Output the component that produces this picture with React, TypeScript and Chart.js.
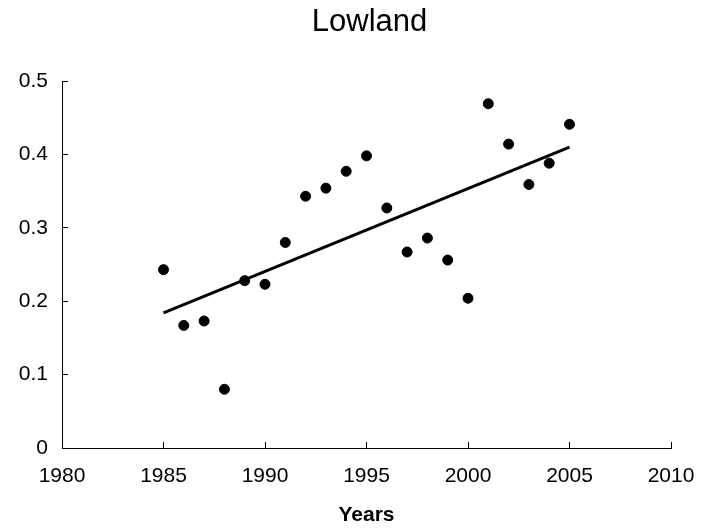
import React, { useEffect, useRef } from "react";
import { Chart, registerables } from "chart.js";

Chart.register(...registerables);

const chartTitle = "Lowland";
const xAxisTitle = "Years";
const years = [1985, 1986, 1987, 1988, 1989, 1990, 1991, 1992, 1993, 1994, 1995, 1996, 1997, 1998, 1999, 2000, 2001, 2002, 2003, 2004, 2005];
const values = [0.243, 0.167, 0.173, 0.08, 0.228, 0.223, 0.28, 0.343, 0.354, 0.377, 0.398, 0.327, 0.267, 0.286, 0.256, 0.204, 0.469, 0.414, 0.359, 0.388, 0.441];
const trendYears = [1985, 2005];
const trendValues = [0.184, 0.41];
const xTickLabels = ["1980", "1985", "1990", "1995", "2000", "2005", "2010"];
const yTickLabels = ["0", "0.1", "0.2", "0.3", "0.4", "0.5"];

const FONT = "'Liberation Sans', Arial, Helvetica, sans-serif";

export default function App() {
  const ref = useRef<HTMLCanvasElement | null>(null);

  useEffect(() => {
    if (!ref.current) return;
    const chart = new Chart(ref.current, {
      type: "scatter",
      data: {
        datasets: [
          {
            label: "points",
            data: years.map((y, i) => ({ x: y, y: values[i] })),
            backgroundColor: "#000",
            borderColor: "#000",
            pointRadius: 5,
            pointHoverRadius: 5,
            showLine: false,
          },
          {
            label: "trend",
            data: trendYears.map((y, i) => ({ x: y, y: trendValues[i] })),
            borderColor: "#000",
            backgroundColor: "#000",
            borderWidth: 3,
            pointRadius: 0,
            showLine: true,
          },
        ],
      },
      options: {
        responsive: false,
        animation: false,
        devicePixelRatio: 1,
        layout: { padding: { left: 0, right: -32, top: 0, bottom: 0 } },
        plugins: {
          legend: { display: false },
          tooltip: { enabled: false },
          title: {
            display: true,
            text: chartTitle,
            color: "#000",
            font: { family: FONT, size: 31, weight: "normal" },
            padding: { top: 4, bottom: 39.8 },
          },
        },
        scales: {
          x: {
            type: "linear",
            min: 1980,
            max: 2010,
            afterFit: (s: any) => {
              s.height = 80;
              s.paddingRight = 36;
            },
            ticks: {
              stepSize: 5,
              color: "#000",
              padding: 22,
              maxRotation: 0,
              font: { family: FONT, size: 21 },
              callback: (v: any, i: number) => xTickLabels[i],
            },
            grid: {
              display: true,
              drawOnChartArea: false,
              drawTicks: true,
              tickLength: -6,
              tickColor: "#000",
              tickWidth: 1,
            },
            border: { display: true, color: "#000", width: 1 },
            title: {
              display: true,
              text: xAxisTitle,
              color: "#000",
              font: { family: FONT, size: 21, weight: "bold" },
              padding: { top: 0, bottom: 0 },
            },
          },
          y: {
            type: "linear",
            min: 0,
            max: 0.5,
            afterFit: (s: any) => {
              s.width = 62;
            },
            ticks: {
              stepSize: 0.1,
              color: "#000",
              padding: 20,
              font: { family: FONT, size: 21 },
              callback: (v: any, i: number) => yTickLabels[i],
            },
            grid: {
              display: true,
              drawOnChartArea: false,
              drawTicks: true,
              tickLength: -6,
              tickColor: "#000",
              tickWidth: 1,
            },
            border: { display: true, color: "#000", width: 1 },
          },
        },
      },
    });
    return () => chart.destroy();
  }, []);

  return (
    <div style={{ position: "absolute", left: 0, top: 0, width: 707, height: 528, background: "#fff" }}>
      <canvas ref={ref} width={707} height={528} style={{ display: "block" }} />
    </div>
  );
}
